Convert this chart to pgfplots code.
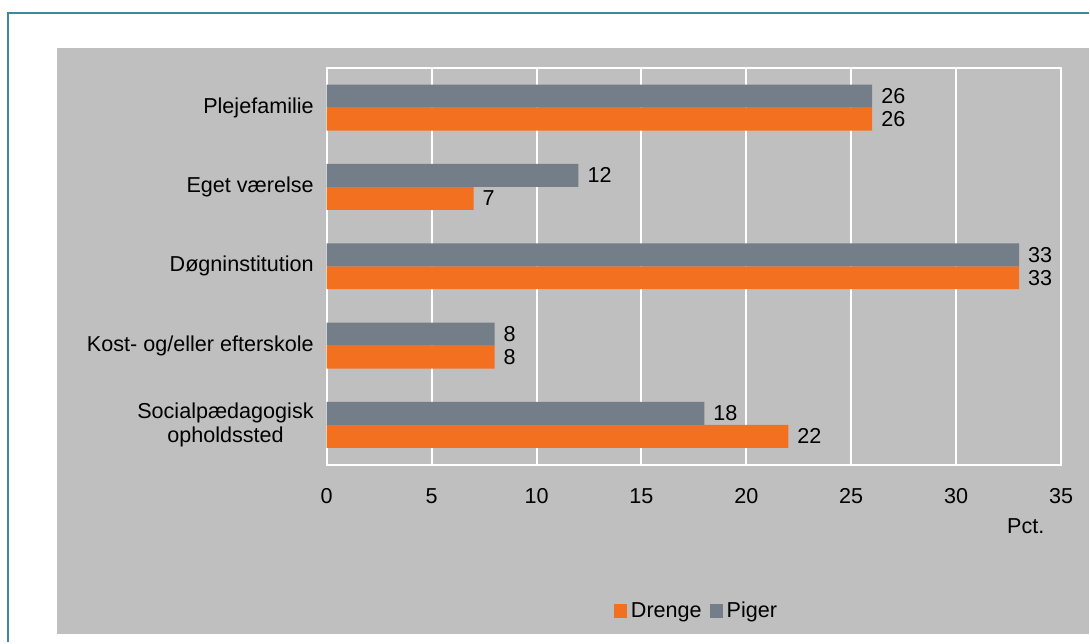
\documentclass[border=0pt]{standalone}
\usepackage{pgfplots}
\pgfplotsset{compat=1.18}
\usepackage{fontspec}
\setmainfont{Liberation Sans}
\definecolor{orng}{HTML}{F37021}
\definecolor{gbar}{HTML}{737E89}
\definecolor{bgg}{HTML}{BFBFBF}
\definecolor{frm}{HTML}{3A8A9E}
\begin{document}
\begin{tikzpicture}
\fill[white] (0,0) rectangle (545pt,321.5pt);
\fill[bgg] (28.5pt,4pt) rectangle (545pt,297.5pt);
\draw[frm,line width=1pt] (4pt,0pt) -- (4pt,315pt) -- (545pt,315pt);
\begin{axis}[
  at={(163.5pt,89pt)}, anchor=south west,
  scale only axis, width=367.5pt, height=198.5pt,
  xbar, bar width=11.5pt,
  xmin=0, xmax=35, xtick={0,5,...,35},
  ymin=-0.5, ymax=4.5, ytick={0,1,2,3,4},
  yticklabels={{Socialpædagogisk\\opholdssted},{Kost- og/eller efterskole},{Døgninstitution},{Eget værelse},{Plejefamilie}},
  yticklabel style={align=center, font=\fontsize{10.8}{12.5}\selectfont, xshift=-3pt},
  xticklabel style={font=\fontsize{10.8}{12}\selectfont, yshift=-8.5pt},
  /pgf/number format/assume math mode=true,
  major tick length=0pt,
  axis background/.style={fill=bgg},
  axis line style={white, line width=1pt},
  xmajorgrids, grid style={white, line width=1pt},
  nodes near coords, every node near coord/.append style={font=\fontsize{10.8}{12}\selectfont, black, xshift=1pt},
  legend style={at={(0.505,-0.37)}, anchor=center, draw=none, fill=none, legend columns=2, font=\fontsize{10.8}{12}\selectfont, /tikz/every even column/.append style={column sep=2pt}},
  legend image code/.code={\fill[#1] (1pt,-3.5pt) rectangle (7.5pt,3.5pt);},
  clip=false,
]
\addplot[fill=orng, draw=none, bar shift=-5.75pt] coordinates {(22,0) (8,1) (33,2) (7,3) (26,4)};
\addlegendentry{Drenge}
\addplot[fill=gbar, draw=none, bar shift=5.75pt] coordinates {(18,0) (8,1) (33,2) (12,3) (26,4)};
\addlegendentry{Piger}
\node[font=\fontsize{10.8}{12}\selectfont] at (rel axis cs:0.952,-0.156) {Pct.};
\end{axis}
\end{tikzpicture}
\end{document}
